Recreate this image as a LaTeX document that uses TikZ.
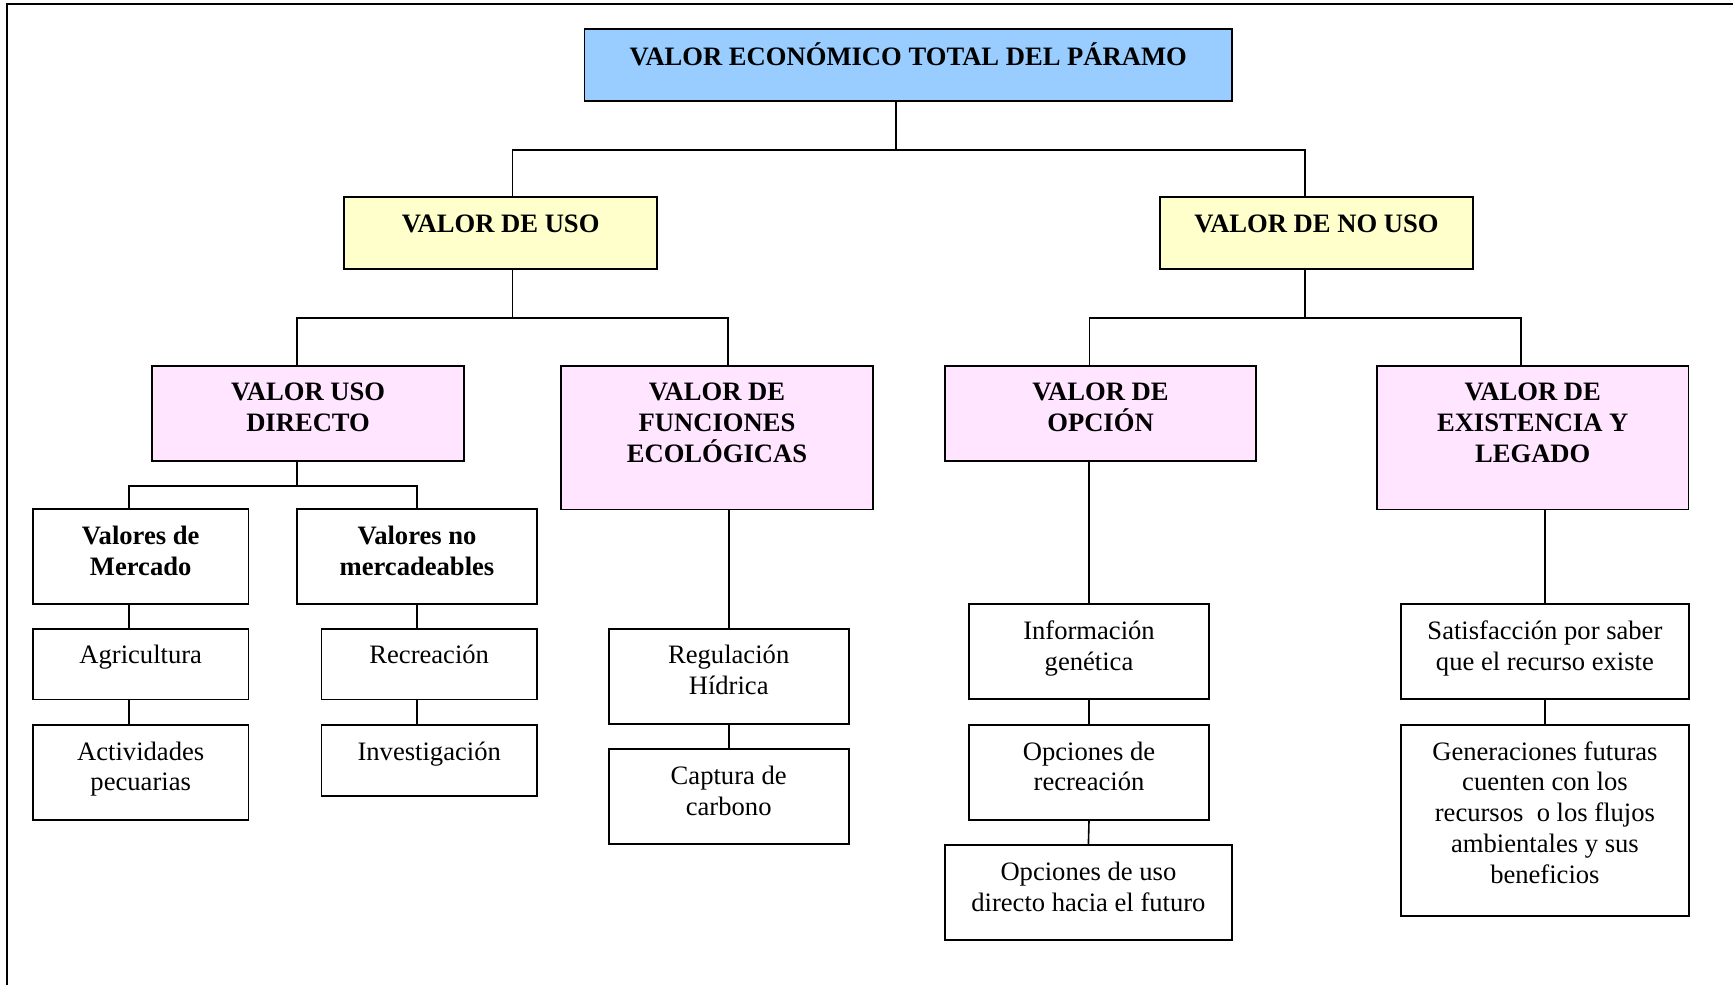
\documentclass[tikz,border=0pt]{standalone}
\usepackage{fontspec}
\setmainfont{Liberation Serif}
\usepackage{xcolor}
\usetikzlibrary{positioning}

\definecolor{azul_total}{HTML}{99CCFF}
\definecolor{amarillo_uso}{HTML}{FFFFCC}
\definecolor{rosa_clase}{HTML}{FFE5FF}
\newcommand{\topstrut}{\rule{0pt}{10.8pt}}

\begin{document}
\begin{tikzpicture}[x=0.5pt,y=-0.5pt,
      dim_box/.style 2 args={
         minimum width=#1,
         minimum height=#2},
      box_base/.style={
         draw=black,
         line width=0.9pt,
         inner sep=0pt,
         anchor=north west},
      box_total/.style={
         box_base,
         fill=azul_total},
      box_uso/.style={
         box_base,
         fill=amarillo_uso},
      box_clase/.style={
         box_base,
         fill=rosa_clase},
      box_leaf/.style={
         box_base,
         fill=white},
      txt_bold/.style={
         anchor=north,
         inner sep=0pt,
         yshift=-7pt,
         align=center,
         font=\fontsize{13.3}{15.4}\selectfont\bfseries},
      txt_plain/.style={
         anchor=north,
         inner sep=0pt,
         yshift=-7pt,
         align=center,
         font=\fontsize{13.3}{15.4}\selectfont},
      line_tree/.style={
         line width=0.8pt}
]
      \useasboundingbox (0,0) rectangle (1733,985);
      %frame
      \draw[line width=0.9pt] (7,985) -- (7,4) -- (1733,4);

      %total
      \node[box_total,dim_box={323.9pt}{36pt},label={[txt_bold]north:{\topstrut VALOR ECONÓMICO TOTAL DEL PÁRAMO}}] (total) at (583.5,28) {};

      %uso / no uso
      \node[box_uso,dim_box={156.5pt}{36.1pt},label={[txt_bold]north:{\topstrut VALOR DE USO}}] (uso) at (343.3,196) {};
      \node[box_uso,dim_box={156.2pt}{36.1pt},label={[txt_bold]north:{\topstrut VALOR DE NO USO}}] (nouso) at (1159.4,196) {};

      %clases de valor
      \node[box_clase,dim_box={155.8pt}{47.5pt},label={[txt_bold]north:{\topstrut VALOR USO\\DIRECTO}}] (directo) at (151.4,364.7) {};
      \node[box_clase,dim_box={155.8pt}{71.9pt},label={[txt_bold]north:{\topstrut VALOR DE\\FUNCIONES\\ECOLÓGICAS}}] (ecolog) at (560.3,364.7) {};
      \node[box_clase,dim_box={155.8pt}{47.5pt},label={[txt_bold]north:{\topstrut VALOR DE\\OPCIÓN}}] (opcion) at (943.8,364.7) {};
      \node[box_clase,dim_box={155.8pt}{71.9pt},label={[txt_bold]north:{\topstrut VALOR DE\\EXISTENCIA Y\\LEGADO}}] (exist) at (1376,364.7) {};

      %uso directo
      \node[box_leaf,dim_box={107.8pt}{47.5pt},label={[txt_bold]north:{\topstrut Valores de\\Mercado}}] (mercado) at (32,508.4) {};
      \node[box_leaf,dim_box={119.9pt}{47.5pt},label={[txt_bold]north:{\topstrut Valores no\\mercadeables}}] (nomerc) at (296.2,508.4) {};

      \node[box_leaf,dim_box={107.8pt}{35.4pt},label={[txt_plain]north:{\topstrut Agricultura}}] (agric) at (32,627.8) {};
      \node[box_leaf,dim_box={107.8pt}{47.5pt},label={[txt_plain]north:{\topstrut Actividades\\pecuarias}}] (pecua) at (32,724) {};
      \node[box_leaf,dim_box={107.8pt}{35.4pt},label={[txt_plain]north:{\topstrut Recreación}}] (recre) at (320.5,627.8) {};
      \node[box_leaf,dim_box={107.8pt}{35.4pt},label={[txt_plain]north:{\topstrut Investigación}}] (invest) at (320.5,724) {};

      %funciones ecologicas
      \node[box_leaf,dim_box={119.9pt}{47.5pt},label={[txt_plain]north:{\topstrut Regulación\\Hídrica}}] (hidrica) at (607.9,627.8) {};
      \node[box_leaf,dim_box={119.9pt}{47.5pt},label={[txt_plain]north:{\topstrut Captura de\\carbono}}] (carbono) at (607.9,748.2) {};

      %opcion
      \node[box_leaf,dim_box={119.9pt}{47.5pt},label={[txt_plain]north:{\topstrut Información\\genética}}] (genet) at (968.2,603.4) {};
      \node[box_leaf,dim_box={119.9pt}{47.5pt},label={[txt_plain]north:{\topstrut Opciones de\\recreación}}] (oprec) at (968.2,724) {};
      \node[box_leaf,dim_box={143.7pt}{47.5pt},label={[txt_plain]north:{\topstrut Opciones de uso\\directo hacia el futuro}}] (opfut) at (943.8,844.4) {};

      %existencia
      \node[box_leaf,dim_box={143.7pt}{47.5pt},label={[txt_plain]north:{\topstrut Satisfacción por saber\\que el recurso existe}}] (satisf) at (1400.3,603.4) {};
      \node[box_leaf,dim_box={143.7pt}{95.5pt},label={[txt_plain]north:{\topstrut Generaciones futuras\\cuenten con los\\recursos~ o los flujos\\ambientales y sus\\beneficios}}] (generac) at (1400.3,724) {};

    \foreach \i/\si/\j/\sj/\h in {% parent/shift/child/shift/drop
      total/-6.2/uso/5.9/48,
      total/-6.2/nouso/-5.8/48,
      uso/5.9/directo/-5.5/48,
      uso/5.9/ecolog/5.5/48,
      nouso/-5.8/opcion/-5.5/48,
      nouso/-5.8/exist/-6/48,
      directo/-5.5/mercado/-5.8/24.4,
      directo/-5.5/nomerc/0/24.4}
      \draw[line_tree] ([xshift=\si pt]\i.south) -- ++(0,\h) -| ([xshift=\sj pt]\j.north);

    \draw[line_tree] ([xshift=-5.8pt]mercado.south) -- ([xshift=-5.8pt]agric.north);
    \draw[line_tree] ([xshift=-5.8pt]agric.south) -- ([xshift=-5.8pt]pecua.north);
    \draw[line_tree] (nomerc.south) -- (nomerc.south |- recre.north);
    \draw[line_tree] (recre.south -| nomerc.south) -- (invest.north -| nomerc.south);
    \draw[line_tree] (ecolog.south -| hidrica.north) -- (hidrica.north);
    \draw[line_tree] (opcion.south -| genet.north) -- (genet.north);
    \draw[line_tree] (exist.south -| satisf.north) -- (satisf.north);

    \foreach \i/\j in {hidrica/carbono, genet/oprec, oprec/opfut, satisf/generac}
      \draw[line_tree] (\i.south) -- (\j.north);

\end{tikzpicture}
\end{document}
